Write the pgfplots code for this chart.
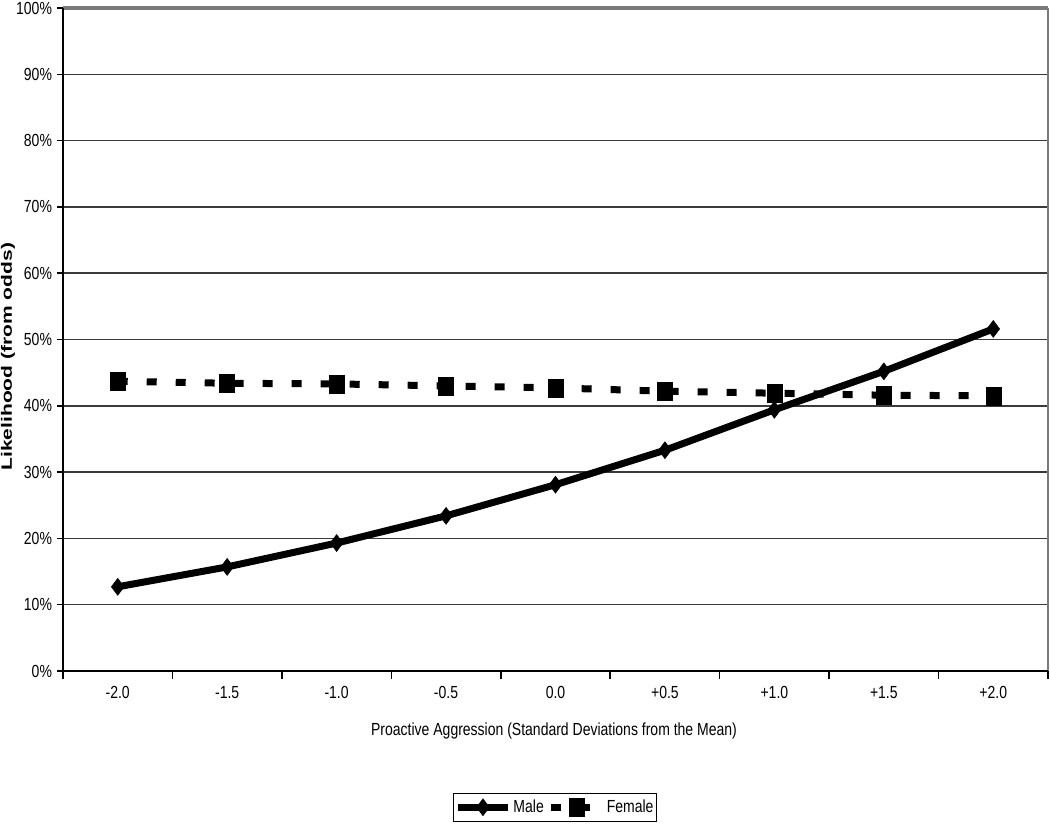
\documentclass[border=0pt]{standalone}
\usepackage{fontspec}
\setmainfont[FakeStretch=0.8]{Liberation Sans}
\newfontfamily\ylabfont[FakeStretch=1.4]{Liberation Sans}
\usepackage{pgfplots}
\pgfplotsset{compat=1.18}
\definecolor{gridc}{HTML}{3A3A3A}
\definecolor{topc}{HTML}{7A7A7A}
\begin{document}
\fontsize{17.5}{21}\selectfont
\begin{tikzpicture}
\path[use as bounding box] (-63pt,-152pt) rectangle (987pt,671pt);
\begin{axis}[
  at={(0pt,0pt)}, anchor=south west,
  scale only axis, width=985pt, height=663pt,
  xmin=-0.5, xmax=8.5, ymin=0, ymax=100,
  axis line style={draw=none},
  xtick={0,...,8},
  xticklabels={-2.0,-1.5,-1.0,-0.5,0.0,+0.5,+1.0,+1.5,+2.0},
  major x tick style={draw=none},
  minor xtick={-0.5,0.5,1.5,2.5,3.5,4.5,5.5,6.5,7.5,8.5},
  minor tick length=8pt,
  minor x tick style={black, line width=1.5pt},
  ytick={0,10,...,100},
  yticklabels={0\%,10\%,20\%,30\%,40\%,50\%,60\%,70\%,80\%,90\%,100\%},
  major tick length=6pt,
  tick align=outside,
  ytick style={black, line width=1.5pt},
  xtick pos=bottom, ytick pos=left,
  ymajorgrids, grid style={gridc, line width=1.5pt},
  /pgf/number format/assume math mode=true,
  xticklabel style={yshift=-3pt},
  yticklabel style={xshift=1pt},
  tick label style={font=\fontsize{17.5}{21}\selectfont},
  xlabel={Proactive Aggression (Standard Deviations from the Mean)},
  xlabel style={font=\fontsize{17.5}{21}\selectfont},
  every axis x label/.style={at={(axis description cs:0.4985,-0.0905)}, anchor=center},
  ylabel={\ylabfont\bfseries Likelihood (from odds)},
  every axis y label/.style={at={(axis description cs:-0.0558,0.474)}, anchor=center, rotate=90},
  ylabel style={font=\fontsize{15}{18}\selectfont},
  legend columns=2,
  legend style={at={(axis description cs:0.4995,-0.2055)}, anchor=center,
    draw=black, line width=1.2pt, font=\fontsize{17.5}{21}\selectfont,
    inner xsep=1pt, inner ysep=4.5pt,
    /tikz/every even column/.append style={column sep=2pt}},
  legend image code/.code={\draw[mark repeat=2,mark phase=2] plot coordinates {(0pt,0pt) (25pt,0pt) (50pt,0pt)};},
  clip=false,
]
\addplot[black, line width=7pt, mark=diamond*, mark size=8.5pt, mark options={solid, line width=0.5pt}]
  coordinates {(0,12.7) (1,15.7) (2,19.3) (3,23.4) (4,28.1) (5,33.3) (6,39.4) (7,45.2) (8,51.6)};
\addlegendentry{Male}
\addplot[black, line width=7pt, dash pattern=on 10pt off 19pt, mark=square*, mark size=7.5pt, mark options={solid, line width=0.5pt, yscale=1.2}]
  coordinates {(0,43.7) (1,43.4) (2,43.3) (3,43.0) (4,42.7) (5,42.2) (6,41.9) (7,41.6) (8,41.5)};
\addlegendentry{Female}
\draw[topc, line width=4pt] (axis cs:-0.5,100) -- (axis cs:8.5,100);
\draw[topc, line width=1.5pt] (axis cs:8.5,0) -- (axis cs:8.5,100);
\draw[black, line width=2.5pt] (axis cs:-0.5,100) -- (axis cs:-0.5,0) -- (axis cs:8.5,0);
\end{axis}
\end{tikzpicture}
\end{document}
